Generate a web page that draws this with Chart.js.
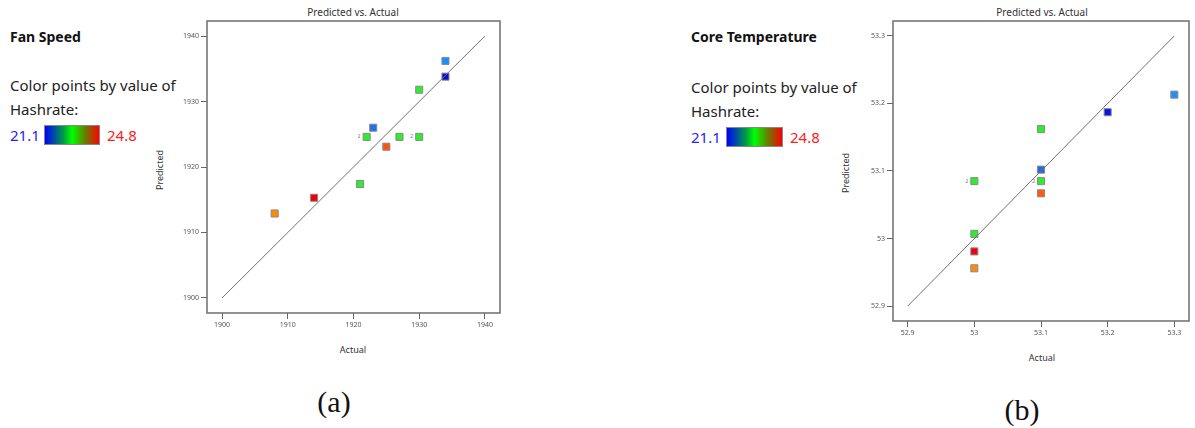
<!DOCTYPE html>
<html>
<head>
<meta charset="utf-8">
<script src="https://cdn.jsdelivr.net/npm/chart.js@4.4.0/dist/chart.umd.min.js"></script>
<style>
  body { margin: 0; background: #fff; width: 1195px; height: 428px; overflow: hidden; position: relative; font-family: "Noto Sans", sans-serif; }
  .abs { position: absolute; white-space: nowrap; }
  .name { font-weight: bold; font-size: 14px; color: #111; }
  .info { font-size: 15px; color: #222; }
  .lo { font-size: 15px; color: #2323ff; }
  .hi { font-size: 15px; color: #ff2020; }
  .bar { height: 20px; border: 1px solid #888; box-sizing: border-box;
         background: linear-gradient(to right, #0000ff, #00a040 35%, #00ff00 50%, #6a7a00 75%, #ff0000); }
  .ttl { font-size: 10px; color: #333; transform: translate(-50%, -50%); }
  .axt { font-size: 9px; color: #333; transform: translate(-50%, -50%); }
  .axy { font-size: 9px; color: #333; transform: translate(-50%, -50%) rotate(-90deg); }
  .cap { font-family: "Liberation Serif", "Times New Roman", serif; font-size: 30px; color: #111; transform: translate(-50%, -50%); }
</style>
</head>
<body>
<div class="abs name" style="left:10px;top:27px;">Fan Speed</div>
<div class="abs info" style="left:10px;top:75px;">Color points by value of</div>
<div class="abs info" style="left:10px;top:99px;">Hashrate:</div>
<div class="abs lo" style="left:10px;top:125px;">21.1</div>
<div class="abs bar" style="left:44px;top:125px;width:56px;"></div>
<div class="abs hi" style="left:107px;top:125px;">24.8</div>

<div class="abs name" style="left:691px;top:27px;">Core Temperature</div>
<div class="abs info" style="left:691px;top:77px;">Color points by value of</div>
<div class="abs info" style="left:691px;top:101px;">Hashrate:</div>
<div class="abs lo" style="left:691px;top:127px;">21.1</div>
<div class="abs bar" style="left:726px;top:127px;width:57px;"></div>
<div class="abs hi" style="left:790px;top:127px;">24.8</div>

<div class="abs ttl" style="left:353px;top:12px;">Predicted vs. Actual</div>
<div class="abs axt" style="left:353px;top:349px;">Actual</div>
<div class="abs axy" style="left:159px;top:170px;">Predicted</div>
<div class="abs ttl" style="left:1042px;top:12px;">Predicted vs. Actual</div>
<div class="abs axt" style="left:1042px;top:357px;">Actual</div>
<div class="abs axy" style="left:845px;top:173px;">Predicted</div>

<div class="abs cap" style="left:334px;top:402px;">(a)</div>
<div class="abs cap" style="left:1022px;top:410px;">(b)</div>

<div class="abs" style="left:150px;top:0;"><canvas id="fan" width="370" height="370"></canvas></div>
<div class="abs" style="left:836px;top:0;"><canvas id="core" width="359" height="380"></canvas></div>

<script>
// Fan Speed (a)
const fanActual = [1934, 1934, 1930, 1923, 1922, 1927, 1930, 1925, 1921, 1914, 1908];
const fanPredicted = [1936.2, 1933.8, 1931.8, 1926.0, 1924.6, 1924.6, 1924.6, 1923.1, 1917.4, 1915.3, 1912.9];
const fanLabels = ['', '', '', '', '2', '', '2', '', '', '', ''];
const fanColors = ['#1e8fff', '#0a10d0', '#2eec2e', '#1f72ee', '#2eec2e', '#2eec2e', '#2eec2e', '#ff5312', '#2eec2e', '#f20000', '#ff8a00'];
const fanTicks = [1900, 1910, 1920, 1930, 1940];

// Core Temperature (b)
const coreActual = [53.3, 53.2, 53.1, 53.1, 53.0, 53.1, 53.1, 53.0, 53.0, 53.0];
const corePredicted = [53.213, 53.187, 53.162, 53.102, 53.085, 53.085, 53.067, 53.007, 52.981, 52.956];
const coreLabels = ['', '', '', '', '2', '2', '', '', '', ''];
const coreColors = ['#1e8fff', '#0a14e6', '#2eec2e', '#1f6ae0', '#2eec2e', '#2eec2e', '#ff5a10', '#2eec2e', '#f00010', '#ff8a10'];
const coreTicks = [52.9, 53.0, 53.1, 53.2, 53.3];

// box round the plot area + small count labels
const boxPlugin = {
  id: 'box',
  afterDatasetsDraw(chart, args, opts) {
    const a = chart.chartArea;
    const ctx = chart.ctx;
    ctx.save();
    ctx.strokeStyle = '#6e6e6e';
    ctx.lineWidth = 1.5;
    ctx.strokeRect(a.left, a.top, a.right - a.left, a.bottom - a.top);
    const meta = chart.getDatasetMeta(1);
    ctx.fillStyle = '#777';
    ctx.font = '5px "Noto Sans"';
    ctx.textAlign = 'right';
    ctx.textBaseline = 'middle';
    opts.labels.forEach((t, i) => {
      if (!t) return;
      const p = meta.data[i];
      ctx.fillText(t, p.x - 6, p.y);
    });
    ctx.restore();
  }
};

function makeChart(id, actual, predicted, colors, labels, ticks, pad, fmt, area) {
  const lo = ticks[0], hi = ticks[ticks.length - 1];
  const axis = (w) => ({
    type: 'linear',
    min: lo - pad,
    max: hi + pad,
    afterBuildTicks: (s) => { s.ticks = ticks.map(v => ({value: v})); },
    afterFit: (s) => { if (w.width) s.width = w.width; if (w.height) s.height = w.height; },
    border: {display: false},
    grid: {drawOnChartArea: false, drawTicks: true, tickLength: 6, color: '#666', lineWidth: 1},
    ticks: {font: {size: 7, family: '"Noto Sans"'}, color: '#555', padding: 2, maxRotation: 0, autoSkip: false,
            callback: (v) => fmt(v)}
  });
  return new Chart(document.getElementById(id), {
    type: 'scatter',
    data: {
      datasets: [
        {
          type: 'line',
          data: [{x: lo, y: lo}, {x: hi, y: hi}],
          borderColor: '#707070',
          borderWidth: 1,
          pointRadius: 0
        },
        {
          data: actual.map((x, i) => ({x: x, y: predicted[i]})),
          pointStyle: 'rect',
          pointRadius: 5,
          pointBackgroundColor: colors,
          pointBorderColor: '#8a8a8a',
          pointBorderWidth: 1
        }
      ]
    },
    options: {
      responsive: false,
      animation: false,
      layout: {padding: area.padding},
      plugins: {legend: {display: false}, tooltip: {enabled: false}, box: {labels: labels}},
      scales: {
        x: Object.assign(axis({height: area.xh}), {position: 'bottom'}),
        y: Object.assign(axis({width: area.yw}), {position: 'left'})
      }
    },
    plugins: [boxPlugin]
  });
}

makeChart('fan', fanActual, fanPredicted, fanColors, fanLabels, fanTicks, 2.3, (v) => String(v),
  {padding: {left: 0, right: 20, top: 21, bottom: 0}, xh: 57, yw: 57});
makeChart('core', coreActual, corePredicted, coreColors, coreLabels, coreTicks, 0.022,
  (v) => String(Math.round(v * 10) / 10),
  {padding: {left: 0, right: 3, top: 21, bottom: 0}, xh: 59, yw: 57});
</script>
</body>
</html>
